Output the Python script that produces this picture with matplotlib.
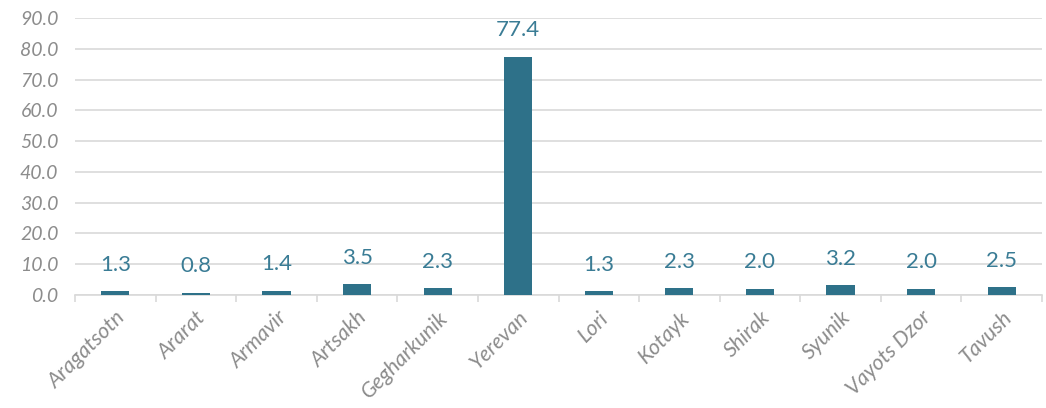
import numpy as np
import matplotlib.pyplot as plt

regions = ['Aragatsotn', 'Ararat', 'Armavir', 'Artsakh', 'Gegharkunik', 'Yerevan',
           'Lori', 'Kotayk', 'Shirak', 'Syunik', 'Vayots Dzor', 'Tavush']
shares = [1.3, 0.8, 1.4, 3.5, 2.3, 77.4, 1.3, 2.3, 2.0, 3.2, 2.0, 2.5]
yticks = np.arange(0, 91, 10)

bar_colour = '#2E7189'
text_colour = '#3A7C95'
grey = '#8c8c8c'
grid_colour = '#d9d9d9'

fig = plt.figure(figsize=(10.46, 4.08), dpi=100)
ax = fig.add_axes([75 / 1046, 1 - 295 / 408, 967 / 1046, 277 / 408])

x = np.arange(len(regions))
ax.bar(x, shares, width=0.35, color=bar_colour, zorder=3)

for xi, v in zip(x, shares):
    ax.annotate(f'{v:.1f}', (xi, v), xytext=(0, 19), textcoords='offset points',
                ha='center', va='center', fontsize=16, color=text_colour,
                family='Lato', zorder=4)

ax.set_xlim(-0.5, len(regions) - 0.5)
ax.set_ylim(0, 90)
ax.set_yticks(yticks)
ax.set_yticklabels([f'{t:.1f}' for t in yticks], fontsize=14, color=grey,
                   style='italic', family='Lato')
ax.yaxis.grid(True, color=grid_colour, linewidth=1.2, zorder=0)
ax.tick_params(axis='y', length=0, pad=12)

# category labels centred, tick marks on the boundaries
ax.set_xticks(x)
ax.set_xticklabels(regions, rotation=45, ha='right', rotation_mode='anchor',
                   fontsize=15.5, color=grey, style='italic', family='Lato')
ax.set_xticks(np.arange(len(regions) + 1) - 0.5, minor=True)
ax.tick_params(axis='x', which='major', length=0, pad=9)
ax.tick_params(axis='x', which='minor', length=5, color=grid_colour, width=1.2)

for side in ['top', 'right', 'left']:
    ax.spines[side].set_visible(False)
ax.spines['bottom'].set_color(grid_colour)
ax.spines['bottom'].set_linewidth(1.2)

fig.savefig('out.png', dpi=100)
